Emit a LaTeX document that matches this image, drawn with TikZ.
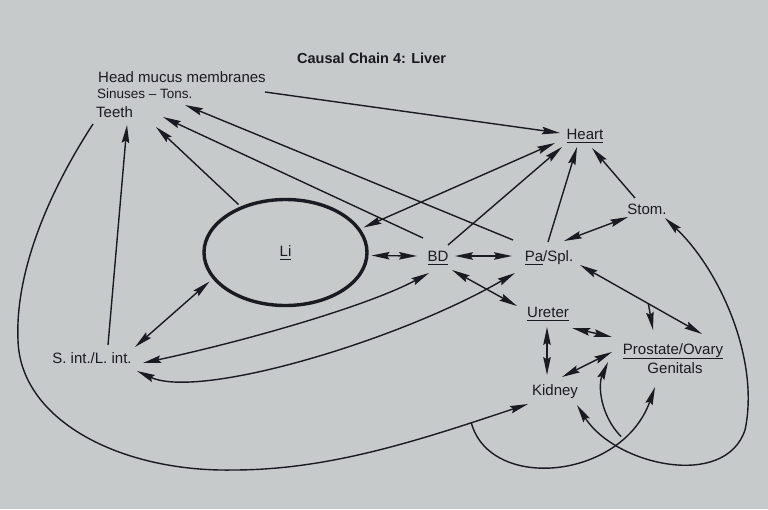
\documentclass[tikz,border=0pt]{standalone}
\usepackage{fontspec}
\setmainfont{Liberation Sans}
\usetikzlibrary{arrows.meta,shapes.geometric}
\definecolor{paper}{RGB}{199,202,203}
\definecolor{ink}{RGB}{26,26,34}
\newcommand{\myul}[2][3.5pt]{\setbox0\hbox{#2}\rlap{\rule[-#1]{\wd0}{1pt}}\box0}
\begin{document}
\begin{tikzpicture}[x=1pt,y=-1pt,
 lbl/.style={text=ink,font=\fontsize{15}{18}\selectfont,inner sep=1pt},
 conn/.style={draw=ink,line width=1.4pt},
 one/.style={conn,-{Stealth[length=18pt,width=7.5pt,inset=2.5pt]}},
 two/.style={conn,{Stealth[length=18pt,width=7.5pt,inset=2.5pt]}-{Stealth[length=18pt,width=7.5pt,inset=2.5pt]}},
]
\fill[paper] (0,0) rectangle (768,509);
\useasboundingbox (0,0) rectangle (768,509);

\node[lbl,anchor=base west,font=\bfseries\fontsize{14.5}{17}\selectfont] (title) at (296,63) {Causal Chain 4: Liver};
\node[lbl,anchor=base west] (head) at (97,82) {Head mucus membranes};
\node[lbl,anchor=base west,font=\fontsize{13.5}{16}\selectfont] (sin) at (96,98) {Sinuses – Tons.};
\node[lbl,anchor=base west] (teeth) at (95,117) {Teeth};
\node[lbl,anchor=base] (heart) at (585,139) {\myul{Heart}};
\node[lbl,anchor=base] (stom) at (647,214) {Stom.};
\node[lbl,draw=ink,line width=3.4pt,ellipse,minimum width=163pt,minimum height=106pt,inner sep=0pt] (li) at (285.5,252.5) {\myul{Li}};
\node[lbl,anchor=base] (bd) at (438,261) {\myul{BD}};
\node[lbl,anchor=base] (pa) at (549,261) {\myul{Pa}/Spl.};
\node[lbl,anchor=base] (ure) at (548,317) {\myul{Ureter}};
\node[lbl,anchor=base] (pro) at (673,354) {\myul[4.5pt]{Prostate/Ovary}};
\node[lbl,anchor=base] (gen) at (675,373) {Genitals};
\node[lbl,anchor=base] (kid) at (555,395) {Kidney};
\node[lbl,anchor=base] (sint) at (92,363) {S. int./L. int.};

% to head region
\draw[one] ([shift={(168,10)}]head.base west) -- ([shift={(-25,-6)}]heart.base);
\draw[one] ([shift={(-36,-21)}]pa.base) -- ([shift={(89,7)}]sin.base west);
\draw[one] ([shift={(-15,-23)}]bd.base) -- ([shift={(68,0)}]teeth.base west);
\draw[one] ([shift={(-47,-48)}]li.center) -- ([shift={(61,10)}]teeth.base west);
\draw[one] ([shift={(16,-18)}]sint.base) -- ([shift={(32,8)}]teeth.base west);

% big loop teeth -> kidney, with branches
\draw[one] ([shift={(-2,7)}]teeth.base west) .. controls (50,190) and (15,270) .. (18,340)
  .. controls (20,420) and (120,472) .. (233,470)
  .. controls (330,470) and (420,440) .. coordinate[pos=0.82] (b1) ([shift={(-27,9)}]kid.base);
\draw[one] (b1) .. controls (490,492) and (622,480) .. coordinate[pos=0.78] (b2) ([shift={(-20,14)}]gen.base);
\draw[one] (b2) .. controls (600,415) and (598,385) .. ([shift={(-65,8)}]pro.base);

% kidney <-> stomach loop
\draw[two] ([shift={(22,10)}]kid.base) .. controls (615,465) and (725,490) .. (745,430)
  .. controls (760,360) and (720,270) .. ([shift={(18,4)}]stom.base);

% urogenital
\draw[two] ([shift={(-1,10)}]ure.base) -- ([shift={(-8,-20)}]kid.base);
\draw[two] ([shift={(24,11)}]ure.base) -- ([shift={(-61,-17)}]pro.base);
\draw[two] ([shift={(7,-18)}]kid.base) -- ([shift={(-61,-2)}]pro.base);
\draw[two] ([shift={(31,4)}]pa.base) -- coordinate[pos=0.56] (b3) ([shift={(29,-20)}]pro.base);
\draw[one] (b3) -- ([shift={(-20,-24)}]pro.base);

% heart / stomach
\draw[two] ([shift={(15,-20)}]pa.base) -- ([shift={(-19,3)}]stom.base);
\draw[one] ([shift={(-12,-16)}]stom.base) -- ([shift={(7,9)}]heart.base);
\draw[one] ([shift={(-1,-19)}]pa.base) -- ([shift={(-8,8)}]heart.base);
\draw[one] ([shift={(10,-16)}]bd.base) -- ([shift={(-23,8)}]heart.base);
\draw[two] ([shift={(78,-25)}]li.center) -- ([shift={(-30,4)}]heart.base);

% middle row
\draw[two] ([shift={(86,3)}]li.center) -- ([shift={(-21,-5)}]bd.base);
\draw[two] ([shift={(17,-5)}]bd.base) -- ([shift={(-37,-5)}]pa.base);
\draw[two] ([shift={(14,9)}]bd.base) -- ([shift={(-31,-11)}]ure.base);

% intestines
\draw[two] ([shift={(51,0)}]sint.base) .. controls (250,340) and (370,305) .. ([shift={(-9,12)}]bd.base);
\draw[two] ([shift={(45,8)}]sint.base) .. controls (200,400) and (400,340) .. ([shift={(-34,12)}]pa.base);
\draw[two] ([shift={(-76,29)}]li.center) -- ([shift={(43,-16)}]sint.base);
\end{tikzpicture}
\end{document}
